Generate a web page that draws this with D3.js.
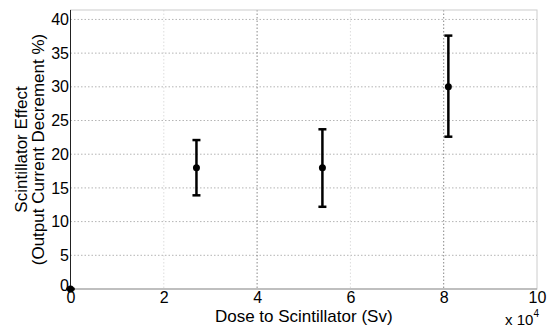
<!DOCTYPE html>
<html>
<head>
<meta charset="utf-8">
<script src="https://cdn.jsdelivr.net/npm/d3@7"></script>
<style>
    body { margin: 0; background: #fff; }
    text { font-family: "Liberation Sans", Arial, sans-serif; fill: #000; }
</style>
</head>
<body>
<div id="chart"></div>
<script>
// dose values (Sv) and measured effect with error bar ends
var doses = [0, 27000, 54000, 81000];
var effect = [0, 18, 18, 30];
var errLow = [0, 13.9, 12.2, 22.6];
var errHigh = [0, 22.1, 23.7, 37.6];

var xTicks = [0, 2, 4, 6, 8, 10];
var yTicks = [0, 5, 10, 15, 20, 25, 30, 35, 40];
var xLabel = "Dose to Scintillator (Sv)";
var yLabel = ["Scintillator Effect", "(Output Current Decrement %)"];

var margin = {top: 10, right: 13, bottom: 40, left: 70.5},
    width = 550 - margin.left - margin.right,
    height = 329 - margin.top - margin.bottom;

var x = d3.scaleLinear().domain([0, 100000]).range([0, width]);
var y = d3.scaleLinear().domain([0, 41.4]).range([height, 0]);

var svg = d3.select("#chart").append("svg")
    .attr("width", 550)
    .attr("height", 329)
    .append("g")
    .attr("transform", "translate(" + margin.left + "," + margin.top + ")");

// grid lines (dotted)
svg.selectAll(".hgrid")
    .data(yTicks.slice(1))
    .enter().append("line")
    .attr("x1", 0).attr("x2", width)
    .attr("y1", d => y(d)).attr("y2", d => y(d))
    .style("stroke", "#b4b4b4")
    .style("stroke-dasharray", "1.5,2")
    .style("stroke-width", 1);

svg.selectAll(".vgrid")
    .data(xTicks.slice(1, -1))
    .enter().append("line")
    .attr("x1", d => x(d * 1e4)).attr("x2", d => x(d * 1e4))
    .attr("y1", 0).attr("y2", height)
    .style("stroke", (d, i) => i % 2 ? "#888" : "#ddd")
    .style("stroke-dasharray", "1.5,2")
    .style("stroke-width", 1);

// box
svg.append("rect")
    .attr("width", width).attr("height", height)
    .style("fill", "none")
    .style("stroke", "#ccc");

svg.append("line")
    .attr("x1", 0).attr("x2", width)
    .attr("y1", height).attr("y2", height)
    .style("stroke", "#999");
svg.append("line")
    .attr("x1", 0).attr("x2", 0)
    .attr("y1", 0).attr("y2", height)
    .style("stroke", "#222");

// x axis
var xAxis = svg.append("g")
    .attr("transform", "translate(0," + height + ")")
    .call(d3.axisBottom(x).tickValues(xTicks.map(d => d * 1e4))
        .tickFormat(d => d / 1e4).tickSize(0).tickPadding(3));
xAxis.select(".domain").remove();
xAxis.selectAll("text").style("font-size", "16px").attr("font-family", null);

// y axis
var yAxis = svg.append("g")
    .call(d3.axisLeft(y).tickValues(yTicks).tickSize(0).tickPadding(1.5));
yAxis.select(".domain").remove();
yAxis.selectAll("text").style("font-size", "16px").attr("font-family", null);
// lift the y "0" a little so it does not sit on the x "0"
yAxis.selectAll("text").filter(d => d === 0).attr("dy", "0.1em");

// error bars
var capW = 4;
var bars = svg.selectAll(".err")
    .data(doses)
    .enter().append("g");
bars.append("line")
    .attr("x1", d => x(d)).attr("x2", d => x(d))
    .attr("y1", (d, i) => y(errLow[i])).attr("y2", (d, i) => y(errHigh[i]));
bars.append("line")
    .attr("x1", d => x(d) - capW).attr("x2", d => x(d) + capW)
    .attr("y1", (d, i) => y(errLow[i])).attr("y2", (d, i) => y(errLow[i]));
bars.append("line")
    .attr("x1", d => x(d) - capW).attr("x2", d => x(d) + capW)
    .attr("y1", (d, i) => y(errHigh[i])).attr("y2", (d, i) => y(errHigh[i]));
bars.selectAll("line")
    .style("stroke", "#000")
    .style("stroke-width", 2.5);

svg.selectAll(".pt")
    .data(doses)
    .enter().append("circle")
    .attr("cx", d => x(d))
    .attr("cy", (d, i) => y(effect[i]))
    .attr("r", 3.5)
    .style("fill", "#000");

// labels
svg.append("text")
    .attr("x", width / 2)
    .attr("y", height + 33)
    .style("text-anchor", "middle")
    .style("font-size", "17px")
    .text(xLabel);

var xm = svg.append("text")
    .attr("x", width + 2)
    .attr("y", height + 35.5)
    .style("text-anchor", "end")
    .style("font-size", "15px");
xm.append("tspan").text("x 10");
xm.append("tspan").attr("dy", -8).style("font-size", "10px").text("4");

svg.selectAll(".ylab")
    .data(yLabel)
    .enter().append("text")
    .attr("transform", (d, i) => "translate(" + (-margin.left + 27 + i * 17) + "," + (height / 2) + ") rotate(-90)")
    .style("text-anchor", "middle")
    .style("font-size", "17px")
    .text(d => d);
</script>
</body>
</html>
